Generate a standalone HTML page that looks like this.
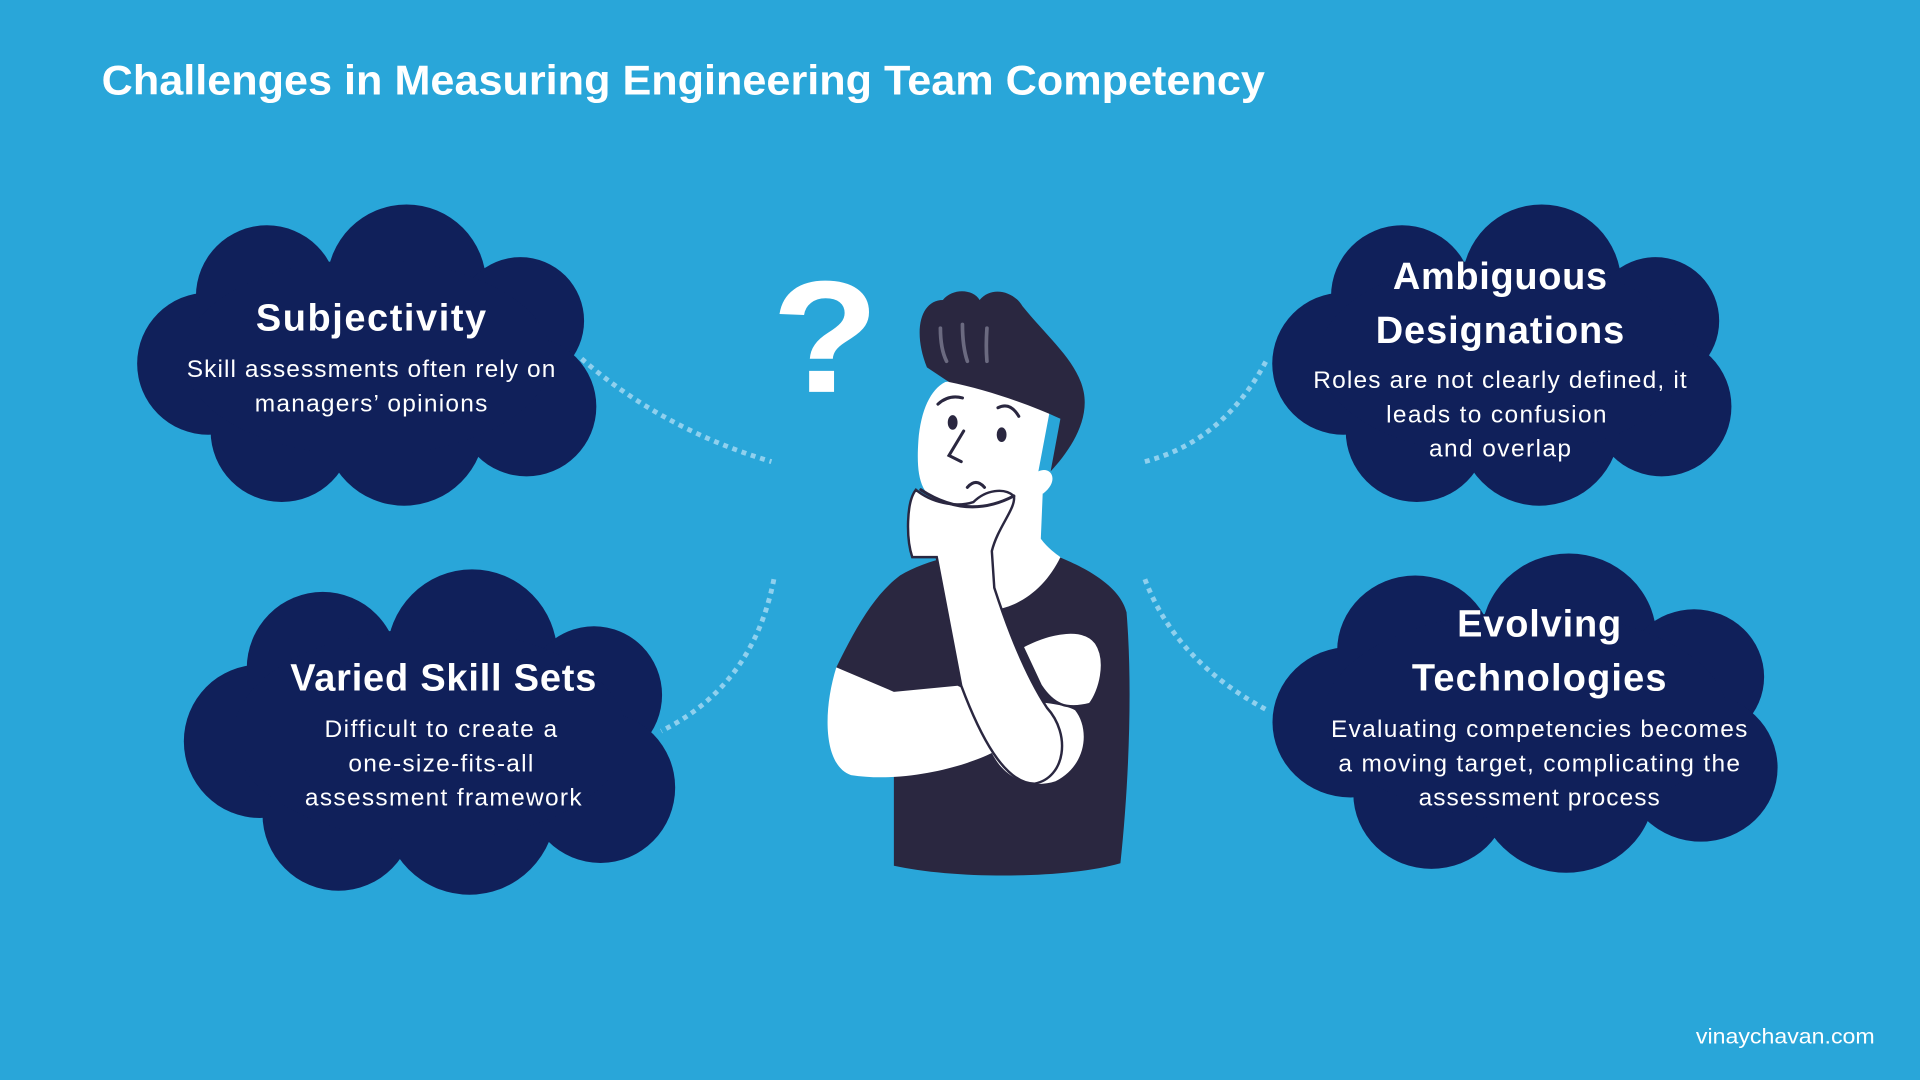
<!DOCTYPE html>
<html><head><meta charset="utf-8"><style>html,body{margin:0;padding:0;background:#29a6d9;}svg{display:block}</style></head>
<body>
<svg width="1920" height="1080" viewBox="0 0 1568 882" xmlns="http://www.w3.org/2000/svg">
<defs>
<g id="cloud" fill="#10205a">
<circle cx="108" cy="75" r="58"/><circle cx="222" cy="65" r="65"/><circle cx="315" cy="95" r="52"/>
<circle cx="320" cy="165" r="57"/><circle cx="60" cy="130" r="58"/><circle cx="120" cy="185" r="58"/>
<circle cx="220" cy="180" r="66"/><ellipse cx="190" cy="125" rx="150" ry="80"/>
</g>
</defs>
<rect width="1568" height="882" fill="#29a6d9"/>
<text x="83" y="77" font-family="Liberation Sans, sans-serif" font-weight="bold" font-size="34" fill="#fff" textLength="950" lengthAdjust="spacingAndGlyphs">Challenges in Measuring Engineering Team Competency</text>

<g fill="none" stroke="#8fd0ee" stroke-width="4" stroke-dasharray="4 4">
<path d="M475,293 Q540,350 630,377"/>
<path d="M935,377 Q1000,360 1035,293"/>
<path d="M632,473 Q615,560 540,597"/>
<path d="M935,473 Q960,540 1035,580"/>
</g>

<use href="#cloud" transform="translate(110,167)"/>
<use href="#cloud" transform="translate(1037,167)"/>
<use href="#cloud" transform="translate(148,465) scale(1.07,1.08)"/>
<use href="#cloud" transform="translate(1037,452) scale(1.1,1.06)"/>

<g font-family="Liberation Sans, sans-serif" fill="#fff" text-anchor="middle" lengthAdjust="spacingAndGlyphs">
<g font-weight="bold" font-size="31">
<text x="303" y="270" textLength="188">Subjectivity</text>
<text x="1225" y="236" textLength="175">Ambiguous</text>
<text x="1225" y="280" textLength="203">Designations</text>
<text x="362" y="564" textLength="250">Varied Skill Sets</text>
<text x="1257" y="520" textLength="134">Evolving</text>
<text x="1257" y="564" textLength="208">Technologies</text>
</g>
<g font-size="20">
<text x="303" y="308" textLength="301">Skill assessments often rely on</text>
<text x="303" y="336" textLength="190">managers’ opinions</text>
<text x="1225" y="317" textLength="305">Roles are not clearly defined, it</text>
<text x="1222" y="345" textLength="180">leads to confusion</text>
<text x="1225" y="373" textLength="116">and overlap</text>
<text x="360" y="602" textLength="190">Difficult to create a</text>
<text x="360" y="630" textLength="151">one-size-fits-all</text>
<text x="362" y="658" textLength="226">assessment framework</text>
<text x="1257" y="602" textLength="340">Evaluating competencies becomes</text>
<text x="1257" y="630" textLength="328">a moving target, complicating the</text>
<text x="1257" y="658" textLength="197">assessment process</text>
</g>
</g>
<text x="1531" y="852" text-anchor="end" font-family="Liberation Sans, sans-serif" font-size="17" fill="#fff" textLength="146" lengthAdjust="spacingAndGlyphs">vinaychavan.com</text>

<!-- question mark -->
<text x="674" y="320" text-anchor="middle" font-family="Liberation Sans, sans-serif" font-weight="bold" font-size="130" fill="#fff" textLength="88" lengthAdjust="spacingAndGlyphs">?</text>

<!-- person -->
<path fill="#2a2740" d="M735,470 C760,455 800,448 820,450 L865,455 C890,465 915,480 920,500 C925,560 922,640 915,705 C870,718 780,718 730,707 L730,568 L683,545 C700,510 715,485 735,470 Z"/>
<path fill="#fff" d="M785,395 L852,392 L850,440 C856,448 862,452 866,455 C855,478 835,495 812,498 L785,470 Z"/>
<path fill="#fff" d="M772,312 C800,308 835,318 858,332 L848,385 C858,380 866,392 852,403 L835,405 C830,420 800,420 770,412 C752,405 748,390 750,360 C752,335 760,318 772,312 Z"/>
<path fill="#2a2740" d="M757,300 C745,270 752,245 770,245 C778,235 795,236 800,245 C810,233 828,238 835,250 C855,275 880,295 885,320 C890,345 872,370 858,385 L866,342 C840,330 805,318 775,312 Z"/>
<g stroke="#6b6a80" stroke-width="3" fill="none" stroke-linecap="round"><path d="M768,268 Q768,285 773,295"/><path d="M786,265 Q786,283 790,295"/><path d="M806,268 Q805,283 806,295"/></g>
<path fill="#fff" d="M683,545 C672,580 672,625 695,633 C740,640 790,625 810,615 C820,635 840,645 862,638 C888,625 890,595 878,580 C860,570 810,575 782,560 L730,565 Z"/>
<path fill="#fff" stroke="#2a2740" stroke-width="2" d="M765,455 L785,560 C800,600 820,640 845,640 C870,635 875,600 855,578 C840,555 825,520 812,480 L810,450 C815,430 830,415 828,405 C820,398 805,400 795,410 C780,415 760,410 748,400 C740,410 740,440 745,455 Z"/>
<path fill="#fff" stroke="#2a2740" stroke-width="2" d="M835,528 C860,515 885,512 895,525 C905,540 898,565 890,575 C870,580 860,575 850,560 Z"/>
<g stroke="#2a2740" stroke-width="2.5" fill="none" stroke-linecap="round">
<path d="M766,330 Q775,322 786,325"/><path d="M815,333 Q825,328 832,340"/>
<path d="M787,352 L775,372 L785,377"/><path d="M790,398 Q797,390 804,398"/>
<path d="M752,400 Q790,425 828,405"/>
</g>
<ellipse cx="778" cy="345" rx="4" ry="6" fill="#2a2740"/><ellipse cx="818" cy="355" rx="4" ry="6" fill="#2a2740"/>
</svg>
</body></html>
